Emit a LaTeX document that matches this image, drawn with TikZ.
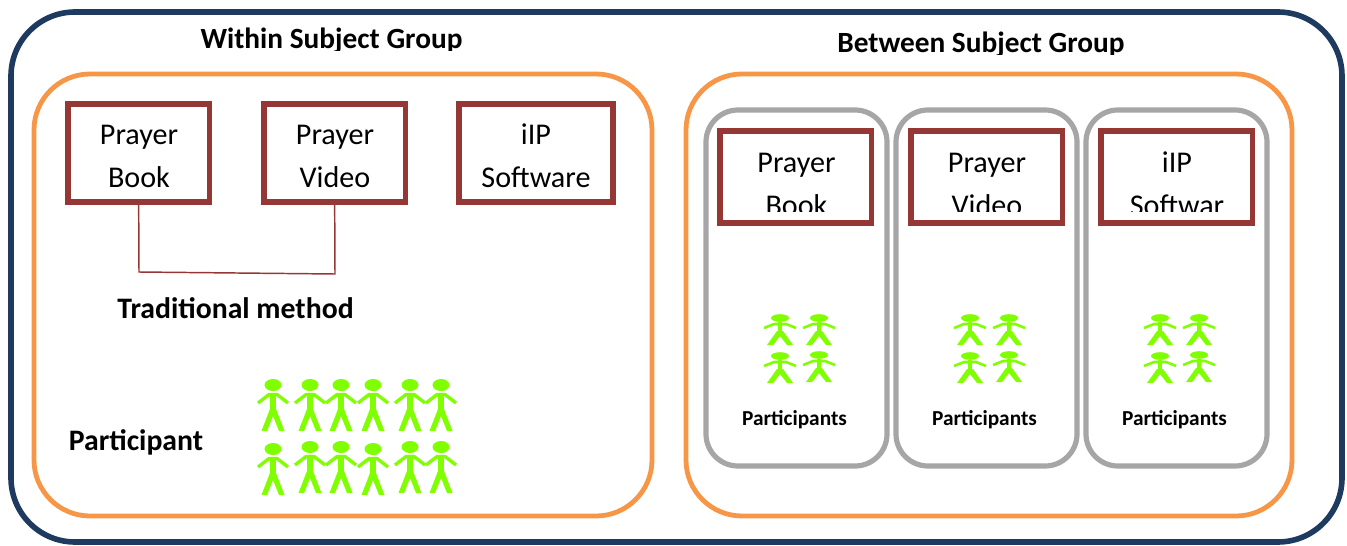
\documentclass[tikz,border=0pt]{standalone}
\usepackage{fontspec}
\setmainfont{Carlito}
\definecolor{navy}{HTML}{1F3A5F}
\definecolor{orng}{HTML}{F79646}
\definecolor{gry}{HTML}{A6A6A6}
\definecolor{brn}{HTML}{953735}
\definecolor{grn}{HTML}{80FF00}
\newcommand{\pxfont}[1]{\fontsize{#1}{#1}\selectfont}
\tikzset{
  px/.style={x=0.75pt,y=-0.75pt},
  outerframe/.style={draw=navy,line width=4.2pt,rounded corners=48pt},
  groupframe/.style={draw=orng,line width=3.6pt,rounded corners=42pt},
  laneframe/.style={draw=gry,line width=3.9pt,rounded corners=24pt},
  methodbox/.style={draw=brn,line width=4.2pt,fill=white,inner sep=0pt,outer sep=0pt,anchor=north west},
  boxtext/.style={inner sep=0pt,anchor=base,font=\pxfont{22.6},text=black},
  boldtext/.style={inner sep=0pt,anchor=base,font=\bfseries\pxfont{22.3},text=black},
  titletext/.style={inner sep=0pt,anchor=base,font=\bfseries\pxfont{22},text=black},
  smalltext/.style={inner sep=0pt,anchor=base,font=\bfseries\pxfont{16},text=black},
  link/.style={draw=brn,line width=1.1pt},
}
% big person: #1 x, #2 head-centre y
\newcommand{\bigperson}[2]{%
  \begin{scope}[shift={(#1,#2)}]
    \fill[grn] (0,0) ellipse [x radius=8.5,y radius=6];
    \draw[grn,line width=4.2pt] (0,8) -- (0,26);
    \draw[grn,line width=2.5pt] (-15,18) -- (-4,9.5) -- (4,9.5) -- (15,18);
    \fill[grn] (-3,24) -- (3,24) -- (11.5,46) -- (6,46) -- (0,31) -- (-6,46) -- (-11.5,46) -- cycle;
  \end{scope}}
% small person
\newcommand{\smallperson}[2]{%
  \begin{scope}[shift={(#1,#2)}]
    \fill[grn] (0,0) ellipse [x radius=9,y radius=3.8];
    \draw[grn,line width=3.6pt] (0,4) -- (0,15);
    \draw[grn,line width=1.9pt] (-16,10) -- (-6,6) -- (6,6) -- (16,10);
    \fill[grn] (-3,13) -- (3,13) -- (13,27) -- (7,27) -- (0,18) -- (-7,27) -- (-13,27) -- cycle;
  \end{scope}}
\begin{document}
\begin{tikzpicture}[px]
\useasboundingbox (0,0) rectangle (1347,546);
% frames
\draw[outerframe] (11,12) rectangle (1342,542);
\draw[groupframe] (34,74) rectangle (652,516);
\draw[groupframe] (686,74) rectangle (1292,516);
\draw[laneframe] (706,110) rectangle (887,466);
\draw[laneframe] (896,110) rectangle (1077,466);
\draw[laneframe] (1086,110) rectangle (1267,466);
% titles (descenders cut off, as in the source)
\begin{scope}
  \clip (150,15) rectangle (520,50.5);
  \node[titletext] (wtitle) at (331.5,48) {Within Subject Group};
\end{scope}
\begin{scope}
  \clip (800,20) rectangle (1160,54.5);
  \node[titletext] (btitle) at (981,52) {Between Subject Group};
\end{scope}
% left boxes
\node[methodbox,minimum width=106pt,minimum height=73.5pt] (wbook) at (68,104) {};
\node[methodbox,minimum width=106pt,minimum height=73.5pt] (wvideo) at (264,104) {};
\node[methodbox,minimum width=115.5pt,minimum height=73.5pt] (wsoft) at (459,104) {};
\node[boxtext] (wbook1) at (139,144) {Prayer};
\node[boxtext] (wbook2) at (139,187) {Book};
\node[boxtext] (wvideo1) at (335,144) {Prayer};
\node[boxtext] (wvideo2) at (335,187) {Video};
\node[boxtext] (wsoft1) at (536,144) {iIP};
\node[boxtext] (wsoft2) at (536,187) {Software};
\draw[link] (wbook.south) -- (139,272) -- (335,274) -- (wvideo.south);
\node[boldtext] (trad) at (235.5,318) {Traditional method};
\node[boldtext] (part) at (136,450) {Participant};
% left crowd
\foreach \px in {273,310,341,373,410,441} {\bigperson{\px}{385}}
\bigperson{273}{449}\bigperson{310}{447}\bigperson{341}{447}
\bigperson{373}{449}\bigperson{410}{447}\bigperson{441}{447}
% right boxes
\node[methodbox,minimum width=113.5pt,minimum height=69pt] (bbook) at (720,131) {};
\node[methodbox,minimum width=113.5pt,minimum height=69pt] (bvideo) at (911,131) {};
\node[methodbox,minimum width=113.5pt,minimum height=69pt] (bsoft) at (1101,131) {};
\node[boxtext] (bbook1) at (796.5,172) {Prayer};
\node[boxtext] (bvideo1) at (987,172) {Prayer};
\node[boxtext] (bsoft1) at (1177,172) {iIP};
\begin{scope}
  \clip (722,190) rectangle (870,211);
  \node[boxtext] (bbook2) at (796.5,215) {Book};
\end{scope}
\begin{scope}
  \clip (913,190) rectangle (1061,211);
  \node[boxtext] (bvideo2) at (987,215) {Video};
\end{scope}
\begin{scope}
  \clip (1103,190) rectangle (1250,211);
  \node[boxtext] (bsoft2) at (1177,215) {Softwar};
\end{scope}
% right crowds
\foreach \cx/\dx in {780/819,970/1009,1160/1199} {
  \smallperson{\cx}{318}\smallperson{\dx}{318}
  \smallperson{\cx}{356}\smallperson{\dx}{355}
}
\node[smalltext] (p1) at (794.5,425) {Participants};
\node[smalltext] (p2) at (984.5,425) {Participants};
\node[smalltext] (p3) at (1174.5,425) {Participants};
\end{tikzpicture}
\end{document}
